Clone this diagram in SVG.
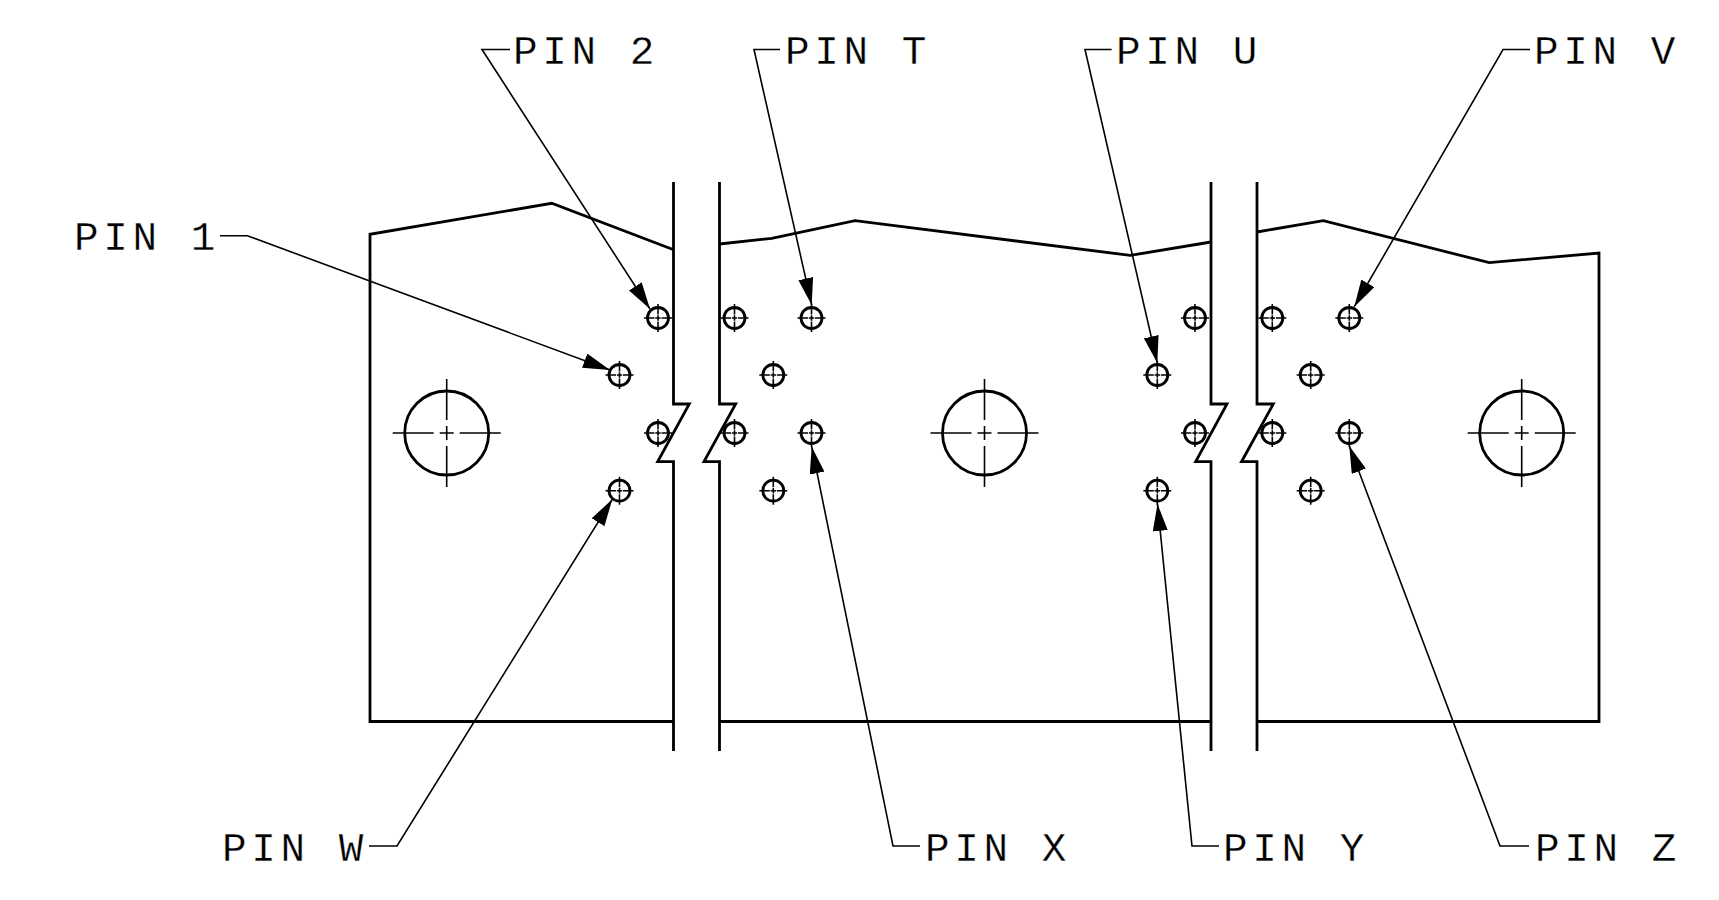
<svg xmlns="http://www.w3.org/2000/svg" width="1719" height="900" viewBox="0 0 1719 900">
<style>
.o{fill:none;stroke:#000;stroke-width:2.8;stroke-linejoin:miter}
.l{fill:none;stroke:#000;stroke-width:1.6;marker-end:url(#a)}
.c{fill:none;stroke:#000;stroke-width:2.8}
.d{fill:none;stroke:#000;stroke-width:1.6}
text{font-family:"Liberation Mono","DejaVu Sans Mono",monospace;font-size:41px;letter-spacing:4.600px;fill:#000;stroke:#fff;stroke-width:.3px}
</style>
<defs>
<marker id="a" markerUnits="userSpaceOnUse" viewBox="0 0 27 15" markerWidth="27" markerHeight="15" refX="27" refY="7.500" orient="auto"><path d="M0 0L27 7.500L0 15Z" fill="#000"/></marker>
<g id="pin"><circle class="c" r="10.500"/><path class="d" d="M-14 0H-3.500M-2.700 0H2.700M3.500 0H14M0-14V-3.500M0-2.700V2.700M0 3.500V14"/></g>
<g id="hole"><circle class="c" r="42"/><path class="d" d="M-54 0H-13M-7 0H7M13 0H54M0-54V-13M0-7V7M0 13V54"/></g>
</defs>
<rect width="1719" height="900" fill="#fff"/>
<g id="plate">
<path class="o" d="M673 249.500L551.700 203.300L370 234.300V721.500H673"/>
<path class="o" d="M719.500 244L771.700 238.300L855 220.700L1130.300 255.400L1211 242"/>
<path class="o" d="M719.500 721.500H1211"/>
<path class="o" d="M1257 232L1323.300 220.700L1489.300 262.700L1599 253V721.500H1257"/>
</g>
<g id="break-1">
<path class="o" d="M673.500 182V404H689.300L657.700 461.700H673.500V751"/>
<path class="o" d="M719.500 182V404H735.700L704 461.700H719.500V751"/>
</g>
<g id="break-2">
<path class="o" d="M1211 182V404H1227L1195.700 461.700H1211V751"/>
<path class="o" d="M1257 182V404H1273.300L1241.500 461.700H1257V751"/>
</g>
<g id="hole-left"><use href="#hole" x="446.700" y="433"/></g>
<g id="hole-middle"><use href="#hole" x="984.500" y="433"/></g>
<g id="hole-right"><use href="#hole" x="1521.700" y="433"/></g>
<g id="pins-left">
<use href="#pin" x="658" y="318"/><use href="#pin" x="619.500" y="375"/><use href="#pin" x="658" y="433"/><use href="#pin" x="619.500" y="490.700"/>
</g>
<g id="pins-middle-a">
<use href="#pin" x="734.500" y="318"/><use href="#pin" x="811.500" y="318"/><use href="#pin" x="773.300" y="375"/><use href="#pin" x="734.500" y="433"/><use href="#pin" x="811.500" y="433"/><use href="#pin" x="773.300" y="490.700"/>
</g>
<g id="pins-middle-b">
<use href="#pin" x="1195" y="318"/><use href="#pin" x="1157.300" y="375"/><use href="#pin" x="1195" y="433"/><use href="#pin" x="1157.300" y="490.700"/>
</g>
<g id="pins-right">
<use href="#pin" x="1272.300" y="318"/><use href="#pin" x="1349.300" y="318"/><use href="#pin" x="1310.700" y="375"/><use href="#pin" x="1272.300" y="433"/><use href="#pin" x="1349.300" y="433"/><use href="#pin" x="1310.700" y="490.700"/>
</g>
<g id="connectors">
<path class="l" d="M220 235.700H247.300L610 370"/>
<path class="l" d="M510 49.500H482L650 309"/>
<path class="l" d="M780 49.500H754L811.700 305"/>
<path class="l" d="M1111.600 49.500H1085L1157.300 363"/>
<path class="l" d="M1530 49.500H1503L1354.300 306.700"/>
<path class="l" d="M369 846H397L612.300 499.300"/>
<path class="l" d="M920 846H893L811.700 446.700"/>
<path class="l" d="M1219 846H1192L1157.500 504"/>
<path class="l" d="M1529 846H1500L1349.300 446"/>
</g>
<g id="label-pin-1"><text x="74" y="250">PIN 1</text></g>
<g id="label-pin-2"><text x="513" y="64">PIN 2</text></g>
<g id="label-pin-t"><text x="785" y="64">PIN T</text></g>
<g id="label-pin-u"><text x="1116" y="64">PIN U</text></g>
<g id="label-pin-v"><text x="1534" y="64">PIN V</text></g>
<g id="label-pin-w"><text x="222" y="861">PIN W</text></g>
<g id="label-pin-x"><text x="925" y="861">PIN X</text></g>
<g id="label-pin-y"><text x="1223" y="861">PIN Y</text></g>
<g id="label-pin-z"><text x="1535" y="861">PIN Z</text></g>
</svg>
